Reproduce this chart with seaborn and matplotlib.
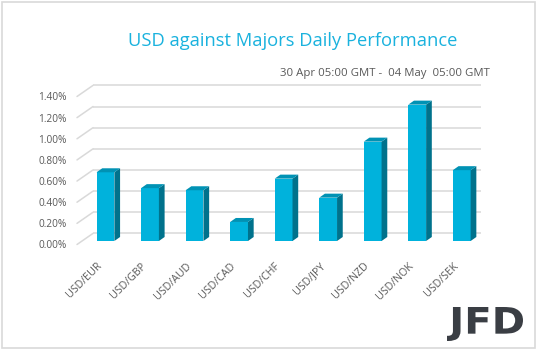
import matplotlib
matplotlib.use("Agg")
import pandas as pd
import matplotlib.pyplot as plt
import seaborn as sns
from matplotlib.patches import Polygon, Rectangle, PathPatch
from matplotlib.textpath import TextPath
from matplotlib.font_manager import FontProperties
from matplotlib.transforms import Affine2D, ScaledTranslation

# Data
pairs = ["USD/EUR", "USD/GBP", "USD/AUD", "USD/CAD", "USD/CHF",
         "USD/JPY", "USD/NZD", "USD/NOK", "USD/SEK"]
changes = [0.65, 0.50, 0.48, 0.18, 0.59, 0.41, 0.94, 1.29, 0.67]
y_ticks = [0.0, 0.2, 0.4, 0.6, 0.8, 1.0, 1.2, 1.4]
y_labels = [f"{v:.2f}%" for v in y_ticks]
title = "USD against Majors Daily Performance"
subtitle = "30 Apr 05:00 GMT -  04 May  05:00 GMT"

front_col = "#00B2DC"
side_col = "#00728C"
top_col = "#0092B4"
grid_col = "#D9D9D9"
text_col = "#595959"

sns.set_theme(style="white")
plt.rcParams["font.family"] = ["Open Sans", "DejaVu Sans"]

W, H = 538, 351
fig = plt.figure(figsize=(W / 100, H / 100), dpi=100)
fig.patch.set_facecolor("white")

# plot area in pixels: x 83..484, y(bottom)=241, 1.4 at 93
ax = fig.add_axes([83.2 / W, 1 - 241 / H, 400.8 / W, 148 / H])
df = pd.DataFrame({"pair": pairs, "change": changes})
sns.barplot(data=df, x="pair", y="change", color=front_col, saturation=1,
            width=0.4, edgecolor="none", ax=ax, zorder=3)
ax.set_xlim(-0.5, len(pairs) - 0.5)
ax.set_ylim(0, 1.4)
ax.set_xlabel("")
ax.set_ylabel("")
for s in ax.spines.values():
    s.set_visible(False)
ax.grid(False)
ax.set_facecolor("none")

# pixels per data unit
p0 = ax.transData.transform((0, 0))
p1 = ax.transData.transform((1, 1))
ppx, ppy = p1[0] - p0[0], p1[1] - p0[1]

# 3d faces of each bar
dx, dy = 5.7 / ppx, 4.0 / ppy
for bar in ax.patches[:]:
    x0 = bar.get_x()
    w = bar.get_width()
    h = bar.get_height()
    side = Polygon([(x0 + w, 0), (x0 + w + dx, dy), (x0 + w + dx, h + dy), (x0 + w, h)],
                   closed=True, facecolor=side_col, edgecolor="none", zorder=3)
    top = Polygon([(x0, h), (x0 + dx, h + dy), (x0 + w + dx, h + dy), (x0 + w, h)],
                  closed=True, facecolor=top_col, edgecolor="none", zorder=3)
    ax.add_patch(side)
    ax.add_patch(top)

# back wall gridlines and side wall diagonals
g_up = 7.6 / ppy
g_left = (93 - 83.2) / ppx - 0.5
g_right = (481 - 83.2) / ppx - 0.5
f_left = (77 - 83.2) / ppx - 0.5
f_down = 3.5 / ppy
for v in y_ticks:
    ax.plot([g_left, g_right], [v + g_up, v + g_up], color=grid_col, lw=1.1,
            zorder=1, clip_on=False, solid_capstyle="butt")
    ax.plot([f_left, g_left], [v - f_down, v + g_up], color=grid_col, lw=1.1,
            zorder=1, clip_on=False)

ax.tick_params(axis="y", length=0, pad=12)
ax.tick_params(axis="x", length=0, pad=14)

ax.set_yticks(y_ticks)
ax.set_yticklabels(y_labels, fontsize=7.3, color=text_col)
shift = ScaledTranslation(0, -0.035, fig.dpi_scale_trans)
for lab in ax.get_yticklabels():
    lab.set_transform(lab.get_transform() + shift)

ax.set_xticks(range(len(pairs)))
ax.set_xticklabels(pairs, fontsize=7.7, color=text_col)
xshift = ScaledTranslation(-0.09, 0, fig.dpi_scale_trans)
for lab in ax.get_xticklabels():
    lab.set_rotation(45)
    lab.set_rotation_mode("anchor")
    lab.set_horizontalalignment("right")
    lab.set_verticalalignment("top")
    lab.set_transform(lab.get_transform() + xshift)

# titles
fig.text(293 / W, 1 - 40.5 / H, title, ha="center", va="center",
         fontsize=13.2, color="#1AB2DE")
fig.text(490 / W, 1 - 73.5 / H, subtitle, ha="right", va="center",
         fontsize=8.2, color=text_col)

# JFD logo
tp = TextPath((0, 0), "JFD", size=1,
              prop=FontProperties(family="DejaVu Sans", weight="bold"))
ext = tp.get_extents()
lx0, ly0, lw, lh = 447, H - 341, 76, 34
trans = (Affine2D().translate(-ext.x0, -ext.y0)
         .scale(lw / ext.width, lh / ext.height)
         .translate(lx0, ly0))
fig.add_artist(PathPatch(tp, transform=trans, facecolor="#3A3E44",
                         edgecolor="none"))

# outer frame
fig.add_artist(Rectangle((2 / W, 1 - 348 / H), 533 / W, 346 / H,
                         transform=fig.transFigure, fill=False,
                         edgecolor=grid_col, lw=1.2))

fig.savefig("out.png", dpi=100)
